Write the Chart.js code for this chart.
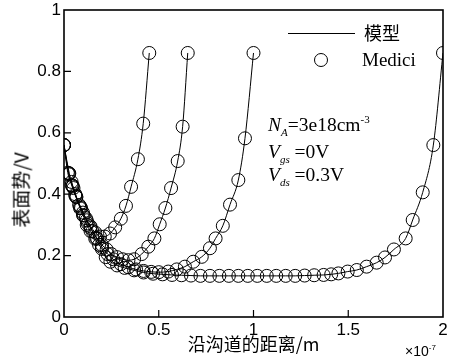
<!DOCTYPE html>
<html>
<head>
<meta charset="utf-8">
<script src="https://cdn.jsdelivr.net/npm/chart.js@4.4.1/dist/chart.umd.min.js"></script>
<style>
html, body { margin: 0; padding: 0; background: #fff; }
#wrap { position: relative; width: 456px; height: 358px; }
.txt { position: absolute; white-space: nowrap; color: #000; line-height: 1; }
.serif { font-family: "Liberation Serif", "Times New Roman", serif; font-size: 19.5px; }
.sub { font-size: 11px; position: relative; top: 5px; }
.sup { font-size: 11px; position: relative; top: -8px; }
#ytitle { font-family: "Noto Sans CJK SC", sans-serif; font-size: 19px; left: 20px; top: 190px; transform: translate(-50%, -50%) rotate(-90deg); }
#xexp { font-family: "Liberation Sans", Arial, sans-serif; font-size: 14px; left: 405px; top: 344px; }
#xexp span { font-size: 8px; position: relative; top: -6px; }
</style>
</head>
<body>
<div id="wrap">
  <canvas id="chart" width="456" height="358"></canvas>
  <div class="txt" id="ytitle">表面势/V</div>
  <div class="txt" id="xexp">×10<span>-7</span></div>
  <div class="txt serif" style="left:268px; top:115px"><i>N</i><span class="sub"><i>A</i></span>=3e18cm<span class="sup">-3</span></div>
  <div class="txt serif" style="left:268px; top:142px"><i>V</i><span class="sub"><i>gs</i></span> =0V</div>
  <div class="txt serif" style="left:268px; top:165px"><i>V</i><span class="sub"><i>ds</i></span> =0.3V</div>
</div>
<script>
// x in units of 1e-7 m, y in V
// channel length 0.45e-7
const x1 = [0, 0.02, 0.04, 0.06, 0.08, 0.10, 0.12, 0.14, 0.165, 0.19, 0.215, 0.243, 0.27, 0.30, 0.327, 0.354, 0.39, 0.418, 0.45]
const y1 = [0.56, 0.47, 0.43, 0.395, 0.365, 0.34, 0.315, 0.295, 0.275, 0.262, 0.262, 0.272, 0.292, 0.32, 0.362, 0.424, 0.514, 0.63, 0.86]
// channel length 0.65e-7
const x2 = [0, 0.025, 0.045, 0.065, 0.085, 0.105, 0.125, 0.15, 0.175, 0.2, 0.225, 0.25, 0.28, 0.31, 0.34, 0.37, 0.41, 0.445, 0.477, 0.505, 0.535, 0.565, 0.6, 0.626, 0.653]
const y2 = [0.56, 0.465, 0.425, 0.39, 0.36, 0.33, 0.305, 0.28, 0.255, 0.235, 0.22, 0.205, 0.195, 0.188, 0.185, 0.188, 0.205, 0.229, 0.256, 0.302, 0.355, 0.42, 0.508, 0.62, 0.86]
// channel length 1.0e-7
const x3 = [0, 0.025, 0.045, 0.065, 0.09, 0.115, 0.14, 0.17, 0.2, 0.23, 0.26, 0.3, 0.34, 0.38, 0.42, 0.46, 0.5, 0.55, 0.595, 0.638, 0.682, 0.727, 0.77, 0.8, 0.838, 0.876, 0.92, 0.955, 1.0]
const y3 = [0.56, 0.468, 0.428, 0.392, 0.355, 0.322, 0.29, 0.258, 0.228, 0.205, 0.188, 0.172, 0.162, 0.155, 0.15, 0.147, 0.146, 0.148, 0.155, 0.164, 0.18, 0.196, 0.224, 0.256, 0.297, 0.366, 0.446, 0.582, 0.86]
// channel length 2.0e-7
const x4 = [0, 0.028, 0.04, 0.05, 0.06, 0.085, 0.1, 0.12, 0.14, 0.165, 0.185, 0.2, 0.22, 0.245, 0.28, 0.32, 0.37, 0.42, 0.47, 0.52, 0.57, 0.62, 0.67, 0.72, 0.77, 0.82, 0.87, 0.92, 0.97, 1.02, 1.07, 1.12, 1.17, 1.22, 1.27, 1.32, 1.37, 1.41, 1.448, 1.497, 1.545, 1.597, 1.65, 1.694, 1.741, 1.803, 1.84, 1.893, 1.949, 2.0]
const y4 = [0.56, 0.468, 0.44, 0.42, 0.40, 0.354, 0.332, 0.30, 0.28, 0.255, 0.235, 0.222, 0.195, 0.18, 0.168, 0.16, 0.152, 0.145, 0.141, 0.139, 0.137, 0.136, 0.135, 0.134, 0.134, 0.134, 0.134, 0.134, 0.134, 0.134, 0.134, 0.134, 0.134, 0.134, 0.135, 0.136, 0.137, 0.139, 0.142, 0.148, 0.153, 0.164, 0.177, 0.194, 0.22, 0.256, 0.316, 0.406, 0.56, 0.86]

const curves = [[x1, y1], [x2, y2], [x3, y3], [x4, y4]]
const xTickLabels = ['0', '0.5', '1', '1.5', '2']
const yTickLabels = ['0', '0.2', '0.4', '0.6', '0.8', '1']
const legendLabels = ['模型', 'Medici']

function pts(xs, ys) {
  return xs.map((v, i) => ({x: v, y: ys[i]}))
}

let datasets = []
curves.forEach(c => {
  datasets.push({
    label: legendLabels[0],
    data: pts(c[0], c[1]),
    showLine: true,
    borderColor: '#000',
    borderWidth: 1,
    pointRadius: 0,
    cubicInterpolationMode: 'monotone',
    fill: false
  })
})
curves.forEach(c => {
  datasets.push({
    label: legendLabels[1],
    data: pts(c[0], c[1]),
    showLine: false,
    borderColor: '#000',
    backgroundColor: 'rgba(0,0,0,0)',
    borderWidth: 1,
    pointRadius: 6.5,
    pointStyle: 'circle'
  })
})

// box, inward ticks and legend
const framePlugin = {
  id: 'frame',
  afterDraw(chart) {
    const ctx = chart.ctx
    const a = chart.chartArea
    const xs = chart.scales.x, ys = chart.scales.y
    ctx.save()
    ctx.strokeStyle = '#000'
    ctx.lineWidth = 1.6
    ctx.strokeRect(a.left, a.top, a.right - a.left, a.bottom - a.top)
    ctx.lineWidth = 1.2
    ctx.beginPath()
    ;[0.5, 1, 1.5].forEach(v => {
      let px = xs.getPixelForValue(v)
      ctx.moveTo(px, a.bottom)
      ctx.lineTo(px, a.bottom - 7)
    })
    ;[0.2, 0.4, 0.6, 0.8].forEach(v => {
      let py = ys.getPixelForValue(v)
      ctx.moveTo(a.left, py)
      ctx.lineTo(a.left + 7, py)
    })
    ctx.stroke()

    // legend
    ctx.lineWidth = 1
    ctx.beginPath()
    ctx.moveTo(288, 33.5)
    ctx.lineTo(355, 33.5)
    ctx.stroke()
    ctx.beginPath()
    ctx.arc(321, 60, 6.5, 0, Math.PI * 2)
    ctx.stroke()
    ctx.fillStyle = '#000'
    ctx.textBaseline = 'middle'
    ctx.font = '18px "Noto Sans CJK SC", sans-serif'
    ctx.fillText(legendLabels[0], 364, 33)
    ctx.font = '19px "Liberation Serif", serif'
    ctx.fillText(legendLabels[1], 362, 61)
    ctx.restore()
  }
}

const config = {
  type: 'scatter',
  data: {datasets: datasets},
  options: {
    responsive: false,
    animation: false,
    layout: {padding: {left: 0, right: 13, top: 10, bottom: 0}},
    plugins: {
      legend: {display: false},
      tooltip: {enabled: false}
    },
    scales: {
      x: {
        type: 'linear',
        min: 0,
        max: 2,
        grid: {display: false, drawTicks: false},
        border: {display: false},
        ticks: {
          stepSize: 0.5,
          color: '#000',
          font: {family: '"Liberation Sans", Arial, sans-serif', size: 17},
          padding: 3,
          maxRotation: 0,
          callback: (v) => xTickLabels[Math.round(v * 2)]
        },
        title: {
          display: true,
          text: '沿沟道的距离/m',
          color: '#000',
          font: {family: '"Noto Sans CJK SC", sans-serif', size: 18},
          padding: {top: 0, bottom: 3}
        },
        afterFit: (s) => { s.height = 41; s.paddingLeft = 0; s.paddingRight = 0 }
      },
      y: {
        min: 0,
        max: 1,
        grid: {display: false, drawTicks: false},
        border: {display: false},
        ticks: {
          stepSize: 0.2,
          color: '#000',
          font: {family: '"Liberation Sans", Arial, sans-serif', size: 17},
          padding: 3,
          callback: (v) => yTickLabels[Math.round(v * 5)]
        },
        afterFit: (s) => { s.width = 64; s.paddingTop = 0; s.paddingBottom = 0 }
      }
    }
  },
  plugins: [framePlugin]
}

const myChart = new Chart(document.getElementById('chart'), config)
</script>
</body>
</html>
